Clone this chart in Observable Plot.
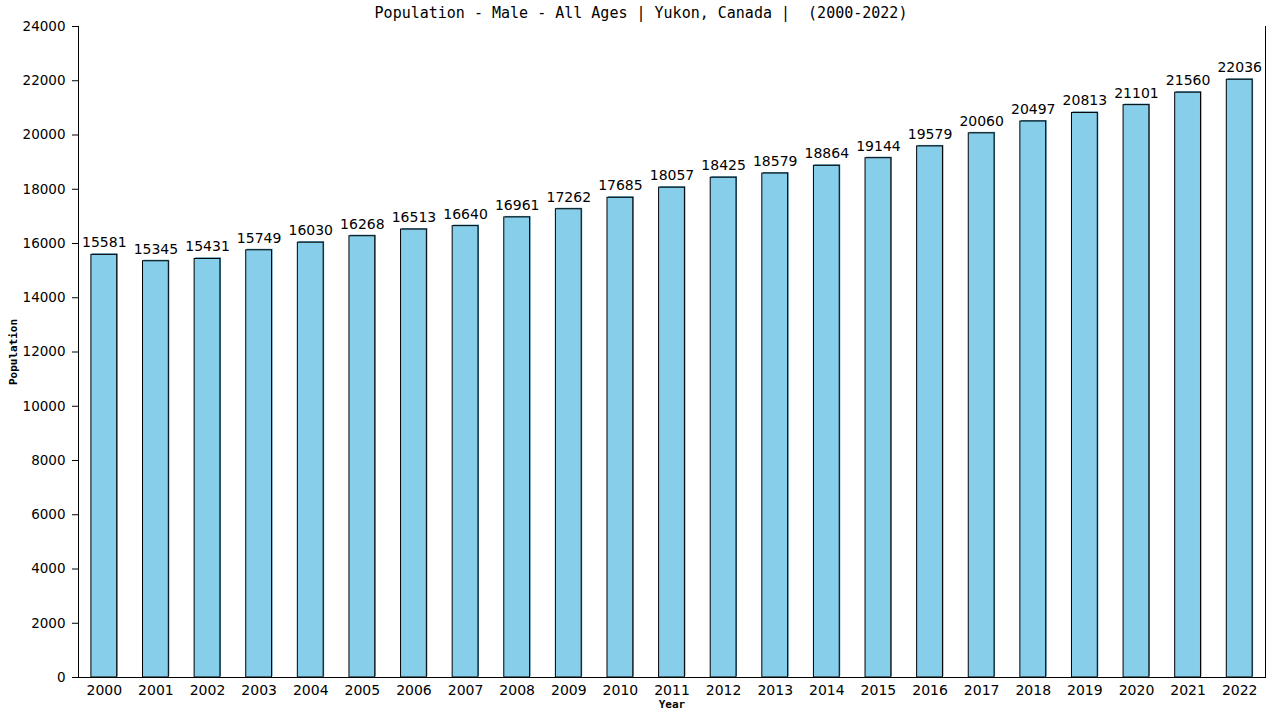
<!DOCTYPE html>
<html>
<head>
<meta charset="utf-8">
<script src="https://cdn.jsdelivr.net/npm/d3@7"></script>
<script src="https://cdn.jsdelivr.net/npm/@observablehq/plot@0.6"></script>
<style>
  html, body { margin: 0; padding: 0; background: #fff; }
  #chart svg { display: block; }
</style>
</head>
<body>
<div id="chart"></div>
<script>
const titleText = "Population - Male - All Ages | Yukon, Canada |  (2000-2022)";
const years = ["2000","2001","2002","2003","2004","2005","2006","2007","2008","2009","2010","2011","2012","2013","2014","2015","2016","2017","2018","2019","2020","2021","2022"];
const population = [15581,15345,15431,15749,16030,16268,16513,16640,16961,17262,17685,18057,18425,18579,18864,19144,19579,20060,20497,20813,21101,21560,22036];
const yTicks = [0,2000,4000,6000,8000,10000,12000,14000,16000,18000,20000,22000,24000];

const data = years.map((y, i) => ({year: y, value: population[i]}));

const sans = "DejaVu Sans, sans-serif";
const mono = "DejaVu Sans Mono, monospace";

const chart = Plot.plot({
  width: 1280,
  height: 720,
  marginLeft: 78,
  marginRight: 15,
  marginTop: 26,
  marginBottom: 43,
  style: {fontFamily: sans, fontSize: "13px", color: "black", background: "white"},
  x: {type: "band", domain: years, paddingInner: 0.5, paddingOuter: 0.25, round: false},
  y: {domain: [0, 24000]},
  marks: [
    Plot.barY(data, {x: "year", y: "value", fill: "#3d87ab", dx: 1, dy: -1}),
    Plot.barY(data, {x: "year", y: "value", fill: "#87ceeb", stroke: "black", strokeWidth: 1}),
    Plot.text(data, {x: "year", y: "value", text: d => String(d.value), dy: -12, fontSize: 14, fontFamily: sans, fill: "black"}),
    Plot.frame({anchor: "left", stroke: "black"}),
    Plot.frame({anchor: "right", stroke: "black"}),
    Plot.frame({anchor: "bottom", stroke: "black"}),
    Plot.axisY({ticks: yTicks, tickFormat: d => String(d), tickSize: 6, tickPadding: 7, label: null, fontSize: 13.5, fontFamily: sans}),
    Plot.axisX({tickSize: 0, tickPadding: 8, label: null, fontSize: 14, fontFamily: sans}),
    Plot.text([titleText], {frameAnchor: "top", dx: -31, dy: -13, lineAnchor: "middle", fontFamily: mono, fontSize: 15, fill: "black"}),
    Plot.text(["Population"], {frameAnchor: "left", textAnchor: "middle", dx: -65, rotate: -90, fontFamily: mono, fontWeight: "bold", fontSize: 11, fill: "black"}),
    Plot.text(["Year"], {frameAnchor: "bottom", textAnchor: "middle", dy: 30, fontFamily: mono, fontWeight: "bold", fontSize: 11, fill: "black"})
  ]
});
document.getElementById("chart").appendChild(chart);
</script>
</body>
</html>
